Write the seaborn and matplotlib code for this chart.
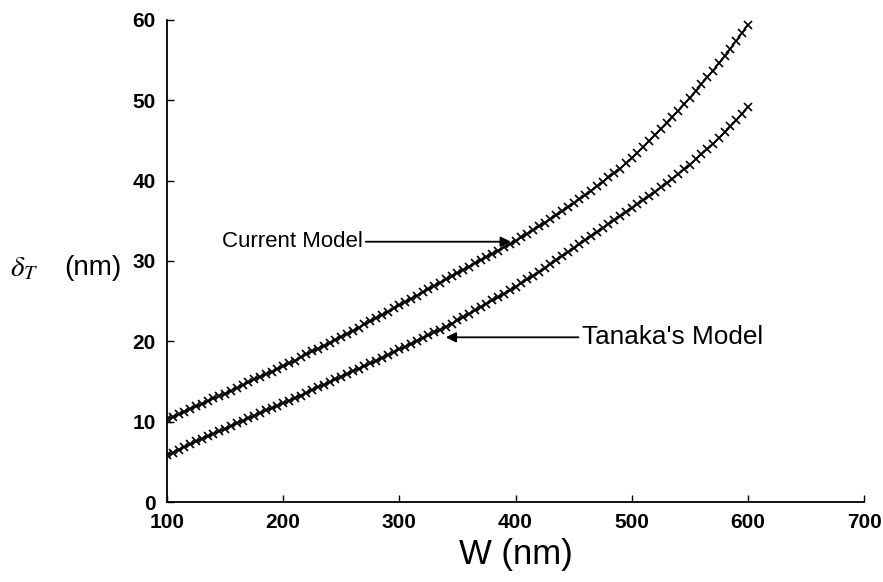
import numpy as np
import pandas as pd
import seaborn as sns
import matplotlib.pyplot as plt

W = np.arange(100, 605, 5)

current_model = [
    10.3, 10.6, 10.9, 11.25, 11.6, 11.9, 12.2, 12.55, 12.9, 13.2,
    13.5, 13.85, 14.2, 14.55, 14.9, 15.25, 15.6, 15.9, 16.2, 16.55,
    16.9, 17.25, 17.6, 18.0, 18.4, 18.75, 19.1, 19.45, 19.8, 20.2,
    20.6, 20.95, 21.3, 21.7, 22.1, 22.5, 22.9, 23.3, 23.7, 24.1,
    24.5, 24.9, 25.3, 25.7, 26.1, 26.5, 26.9, 27.3, 27.7, 28.1,
    28.5, 28.9, 29.3, 29.7, 30.1, 30.5, 30.9, 31.3, 31.7, 32.1,
    32.5, 32.95, 33.4, 33.85, 34.3, 34.75, 35.2, 35.7, 36.2, 36.7,
    37.2, 37.7, 38.2, 38.75, 39.3, 39.85, 40.4, 40.95, 41.5, 42.15,
    42.8, 43.5, 44.2, 44.95, 45.7, 46.45, 47.2, 47.95, 48.7, 49.5,
    50.3, 51.15, 52.0, 52.85, 53.7, 54.6, 55.5, 56.45, 57.4, 58.4,
    59.4,
]

tanaka_model = [
    5.8, 6.15, 6.5, 6.85, 7.2, 7.55, 7.9, 8.2, 8.5, 8.8,
    9.1, 9.45, 9.8, 10.1, 10.4, 10.75, 11.1, 11.4, 11.7, 12.0,
    12.3, 12.6, 12.9, 13.25, 13.6, 13.95, 14.3, 14.6, 14.9, 15.25,
    15.6, 15.95, 16.3, 16.6, 16.9, 17.25, 17.6, 17.95, 18.3, 18.65,
    19.0, 19.35, 19.7, 20.05, 20.4, 20.75, 21.1, 21.45, 21.8, 22.2,
    22.6, 23.0, 23.4, 23.85, 24.3, 24.7, 25.1, 25.5, 25.9, 26.35,
    26.8, 27.25, 27.7, 28.15, 28.6, 29.1, 29.6, 30.1, 30.6, 31.1,
    31.6, 32.1, 32.6, 33.1, 33.6, 34.1, 34.6, 35.1, 35.6, 36.1,
    36.6, 37.1, 37.6, 38.1, 38.6, 39.15, 39.7, 40.25, 40.8, 41.4,
    42.0, 42.65, 43.3, 43.95, 44.6, 45.3, 46.0, 46.75, 47.5, 48.35,
    49.2,
]

x_ticks = [100, 200, 300, 400, 500, 600, 700]
y_ticks = [0, 10, 20, 30, 40, 50, 60]

sns.set_style("ticks")
plt.rcParams['font.family'] = ['Liberation Sans', 'DejaVu Sans']
plt.rcParams['mathtext.fontset'] = 'stix'
plt.rcParams['text.color'] = 'black'
plt.rcParams['axes.labelcolor'] = 'black'
plt.rcParams['xtick.color'] = 'black'
plt.rcParams['ytick.color'] = 'black'

fig = plt.figure(figsize=(8.83, 5.82), dpi=100)
ax = fig.add_axes([167/883, 80/582, (864-167)/883, (502-20)/582])

df_c = pd.DataFrame({"W": W, "delta": current_model})
df_t = pd.DataFrame({"W": W, "delta": tanaka_model})
for d in (df_c, df_t):
    sns.lineplot(data=d, x="W", y="delta", ax=ax, color="black", linewidth=1.2,
                 marker="x", markersize=5.5, markeredgewidth=1.2,
                 markeredgecolor="black")

ax.set_xlim(100, 700)
ax.set_ylim(0, 60)
ax.set_xticks(x_ticks)
ax.set_yticks(y_ticks)
ax.set_xticklabels([str(v) for v in x_ticks], fontweight='bold', fontsize=15)
ax.set_yticklabels([str(v) for v in y_ticks], fontweight='bold', fontsize=15)
ax.tick_params(direction='in', length=5, width=1, colors='black', pad=8)
sns.despine(ax=ax, top=True, right=True)
for s in ("left", "bottom"):
    ax.spines[s].set_color("black")
    ax.spines[s].set_linewidth(1.3)

ax.set_xlabel("W (nm)", fontsize=25, labelpad=4, color='black')
ax.set_ylabel("")
fig.text(10/883, 1 - 268/582, r"$\delta_T$", fontsize=21, va='center',
         ha='left', color='black')
fig.text(64/883, 1 - 268/582, "(nm)", fontsize=20, va='center',
         ha='left', color='black')

arrow = dict(arrowstyle='-|>', color='black', lw=1.3, mutation_scale=15,
             shrinkA=0, shrinkB=0)
ax.annotate("Current Model", xy=(396, 32.4), xytext=(147, 32.4),
            ha='left', va='center', fontsize=16, arrowprops=arrow, color='black')
ax.annotate("Tanaka's Model", xy=(340, 20.5), xytext=(457, 20.5),
            ha='left', va='center', fontsize=18.8, arrowprops=arrow, color='black')

fig.savefig("out.png", dpi=100)
